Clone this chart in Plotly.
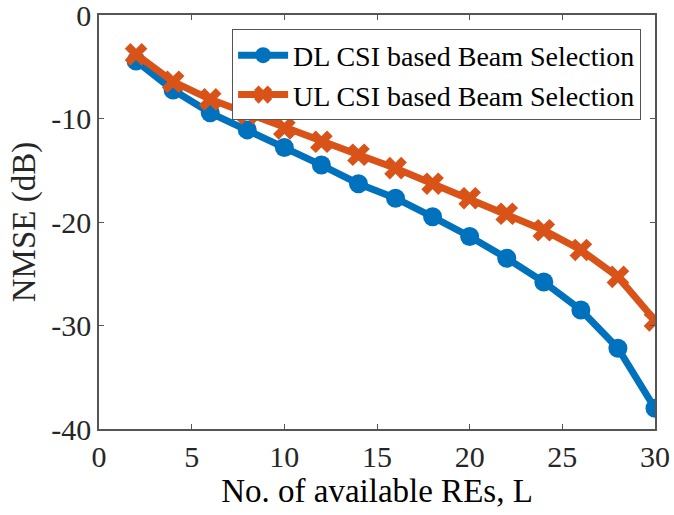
import plotly.graph_objects as go

L_values = [2, 4, 6, 8, 10, 12, 14, 16, 18, 20, 22, 24, 26, 28, 30]
dl_nmse = [-4.45, -7.25, -9.45, -11.1, -12.8, -14.5, -16.3, -17.7, -19.5, -21.4, -23.5, -25.8, -28.5, -32.2, -38.0]
ul_nmse = [-3.8, -6.45, -8.15, -9.5, -10.96, -12.25, -13.5, -14.8, -16.3, -17.7, -19.2, -20.8, -22.7, -25.3, -29.5]

x_ticks = [0, 5, 10, 15, 20, 25, 30]
x_ticklabels = ["0", "5", "10", "15", "20", "25", "30"]
y_ticks = [0, -10, -20, -30, -40]
y_ticklabels = ["0", "-10", "-20", "-30", "-40"]

FONT = "Liberation Serif"
TXT = "#262626"
AX = "#555555"

fig = go.Figure()
fig.add_trace(go.Scatter(
    x=L_values, y=dl_nmse, mode="lines+markers",
    name="DL CSI based Beam Selection",
    line=dict(color="#0072BD", width=7),
    marker=dict(symbol="circle", size=19, color="#0072BD"),
))
fig.add_trace(go.Scatter(
    x=L_values, y=ul_nmse, mode="lines+markers",
    name="UL CSI based Beam Selection",
    line=dict(color="#D95319", width=7),
    marker=dict(symbol="x", size=20, color="#D95319"),
))

axis_common = dict(
    showgrid=False, zeroline=False, showline=True, mirror="ticks",
    linecolor=AX, linewidth=1.5, ticks="inside", ticklen=5, tickcolor=AX,
    tickfont=dict(family=FONT, size=30, color=TXT),
    ticklabeloverflow="allow", automargin=False,
)
fig.update_xaxes(range=[0, 30], tickvals=x_ticks, ticktext=x_ticklabels,
                 title=dict(text="No. of available REs, L", font=dict(family=FONT, size=33, color="#000"), standoff=2),
                 **axis_common)
fig.update_yaxes(range=[-40, 0], tickvals=y_ticks, ticktext=y_ticklabels,
                 title=dict(text="NMSE (dB)", font=dict(family=FONT, size=33, color=TXT), standoff=6),
                 **axis_common)

fig.update_layout(
    width=674, height=515,
    margin=dict(l=99, r=19, t=15, b=86),
    plot_bgcolor="white", paper_bgcolor="white",
    font=dict(family=FONT, color=TXT),
    legend=dict(
        x=0.975, y=0.965, xanchor="right", yanchor="top",
        bgcolor="white", bordercolor=AX, borderwidth=1,
        font=dict(family=FONT, size=28, color="#000"),
        itemwidth=50, tracegroupgap=0,
    ),
)

fig.write_html("out.html")
